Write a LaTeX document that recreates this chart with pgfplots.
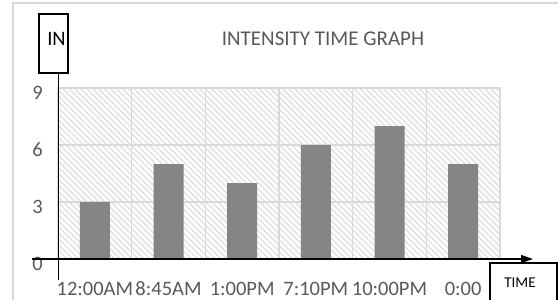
\documentclass[border=0pt]{standalone}
\usepackage{pgfplots}
\pgfplotsset{compat=1.18}
\usepackage{fontspec}
\setmainfont{Carlito}
\usetikzlibrary{patterns.meta,arrows.meta}
\definecolor{txtgray}{HTML}{595959}
\definecolor{gridgray}{HTML}{D9D9D9}
\definecolor{hatchgray}{HTML}{E3E3E3}
\definecolor{bargray}{HTML}{858585}
\begin{document}
\begin{tikzpicture}[x=1bp,y=1bp]
\useasboundingbox (0,0) rectangle (558,299);
\draw[gridgray, line width=1.2bp] (13,-2) -- (13,296) -- (560,296);
\begin{axis}[
  at={(58bp,40bp)}, anchor=south west,
  scale only axis, width=442bp, height=171bp,
  xmin=-0.5, xmax=5.5, ymin=0, ymax=9,
  xtick={0,1,2,3,4,5},
  xticklabels={12:00AM,8:45AM,1:00PM,7:10PM,10:00PM,0:00},
  minor xtick={0.5,1.5,2.5,3.5,4.5},
  ytick={0,3,6,9},
  ymajorgrids, xminorgrids,
  grid style={gridgray, line width=1.5bp},
  minor grid style={gridgray, line width=1.5bp},
  axis line style={gridgray, line width=1.5bp},
  tick style={draw=none},
  major tick length=0pt, minor tick length=0pt,
  axis background/.style={pattern={Lines[angle=-45,distance=4.2bp,line width=1.6bp]}, pattern color=hatchgray},
  ticklabel style={font=\fontsize{20.5bp}{24bp}\selectfont, text=txtgray},
  xticklabel style={anchor=base, inner sep=0pt, text depth=0pt, yshift=-36bp},
  yticklabel style={anchor=base east, inner sep=0pt, xshift=-15bp, yshift=-11bp},
  /pgf/number format/assume math mode=true,
  ybar, bar width=30bp,
]
\addplot[fill=bargray, draw=none] coordinates {(0,3) (1,5) (2,4) (3,6) (4,7) (5,5)};
\end{axis}
\draw[black, line width=1bp] (58,226) -- (58,19);
\draw[black, line width=1.2bp, -{Triangle[length=12bp,width=8bp]}] (32,40) -- (533,40);
\draw[black, line width=1.3bp, fill=white] (39,226) rectangle (68,285);
\node[anchor=base, inner sep=0pt, font=\fontsize{20.5bp}{24bp}\selectfont] at (56.5,254) {IN};
\draw[black, line width=1.3bp, fill=white] (490,36) rectangle (557,-3);
\node[anchor=base, inner sep=0pt, text depth=0pt, font=\fontsize{15bp}{18bp}\selectfont] at (520,12) {TIME};
\node[anchor=base, inner sep=0pt, text=txtgray, font=\fontsize{21bp}{25bp}\selectfont] at (323,254) {INTENSITY TIME GRAPH};
\end{tikzpicture}
\end{document}
